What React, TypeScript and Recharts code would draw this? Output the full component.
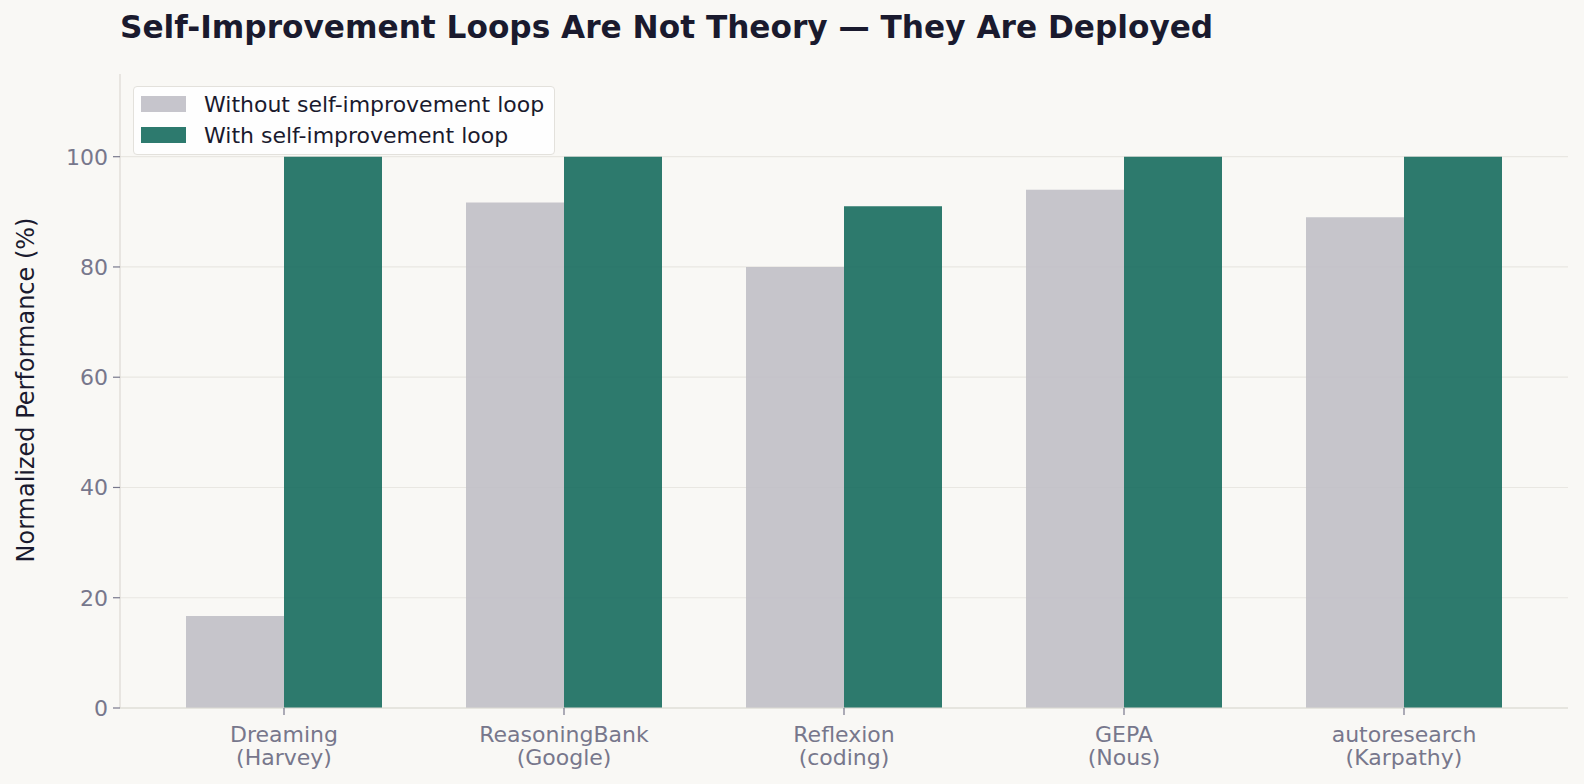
import { BarChart, Bar, XAxis, YAxis, CartesianGrid } from 'recharts'

// categories and values
const categories = [
    'Dreaming\n(Harvey)',
    'ReasoningBank\n(Google)',
    'Reflexion\n(coding)',
    'GEPA\n(Nous)',
    'autoresearch\n(Karpathy)',
]
const withoutLoop = [16.7, 91.7, 80, 94, 89]
const withLoop = [100, 100, 91, 100, 100]
const yTicks = [0, 20, 40, 60, 80, 100]

const seriesNames = ['Without self-improvement loop', 'With self-improvement loop']

const data = categories.map((c, i) => ({
    name: c,
    without: withoutLoop[i],
    with: withLoop[i],
}))

const FONT = '"DejaVu Sans", sans-serif'
const BG = '#f9f8f5'
const DARK = '#1a1a2e'
const MUTED = '#77778c'
const GRAY = '#c0bfc6'
const GREEN = '#166c5e'

function CategoryTick(props: any) {
    const { x, y, payload } = props
    const lines = String(payload.value).split('\n')
    return (
        <text x={x} y={y} textAnchor="middle" fill={MUTED} fontSize={22} fontFamily={FONT}>
            {lines.map((l, i) => (
                <tspan key={i} x={x} y={y + 24 + i * 23}>{l}</tspan>
            ))}
        </text>
    )
}

function LegendBox() {
    const items = [
        { label: seriesNames[0], color: GRAY },
        { label: seriesNames[1], color: GREEN },
    ]
    return (
        <div style={{
            position: 'absolute', left: 133, top: 86,
            background: 'rgba(255,255,255,0.85)',
            border: '1px solid #e3e1dc',
            borderRadius: 4,
            width: 420,
            height: 67,
            fontFamily: FONT,
            fontSize: 22,
            color: DARK,
        }}>
            {items.map((it, i) => (
                <div key={i} style={{ position: 'absolute', left: 7, top: 7 + i * 31, display: 'flex', alignItems: 'center', height: 20 }}>
                    <div style={{ width: 45, height: 16, background: it.color, opacity: 0.9 }} />
                    <span style={{ marginLeft: 18, whiteSpace: 'nowrap' }}>{it.label}</span>
                </div>
            ))}
        </div>
    )
}

export default function App() {
    return (
        <div style={{ position: 'absolute', left: 0, top: 0, width: 1584, height: 784, background: BG, overflow: 'hidden' }}>
            <div style={{
                position: 'absolute', left: 120, top: 9,
                fontFamily: FONT, fontWeight: 'bold', fontSize: 31.2, color: DARK, whiteSpace: 'nowrap',
            }}>
                Self-Improvement Loops Are Not Theory — They Are Deployed
            </div>
            <div style={{
                position: 'absolute', left: 26, top: 390,
                transform: 'translate(-50%, -50%) rotate(-90deg)',
                fontFamily: FONT, fontSize: 24, color: DARK, whiteSpace: 'nowrap',
            }}>
                Normalized Performance (%)
            </div>
            <BarChart
                width={1584}
                height={784}
                data={data}
                margin={{ top: 74, right: 16, bottom: 36, left: 60 }}
                barCategoryGap="15%"
                barGap={0}
                style={{ position: 'absolute', left: 0, top: 0 }}
            >
                <CartesianGrid vertical={false} horizontalValues={yTicks} stroke="#e9e7e2" strokeWidth={1.2} />
                <XAxis
                    dataKey="name"
                    height={40}
                    padding={{ left: 24, right: 24 }}
                    stroke="#dcd9d3"
                    strokeWidth={1.2}
                    tickLine={{ stroke: MUTED }}
                    tickSize={7}
                    tickMargin={3}
                    interval={0}
                    tick={<CategoryTick />}
                />
                <YAxis
                    width={60}
                    domain={[0, 115]}
                    ticks={yTicks}
                    stroke="#dcd9d3"
                    strokeWidth={1.2}
                    tickLine={{ stroke: MUTED }}
                    tickSize={7}
                    tickMargin={5}
                    tick={{ fill: MUTED, fontSize: 22, fontFamily: FONT }}
                />
                <Bar dataKey="without" name={seriesNames[0]} fill={GRAY} fillOpacity={0.9} isAnimationActive={false} />
                <Bar dataKey="with" name={seriesNames[1]} fill={GREEN} fillOpacity={0.9} isAnimationActive={false} />
            </BarChart>
            <LegendBox />
        </div>
    )
}
